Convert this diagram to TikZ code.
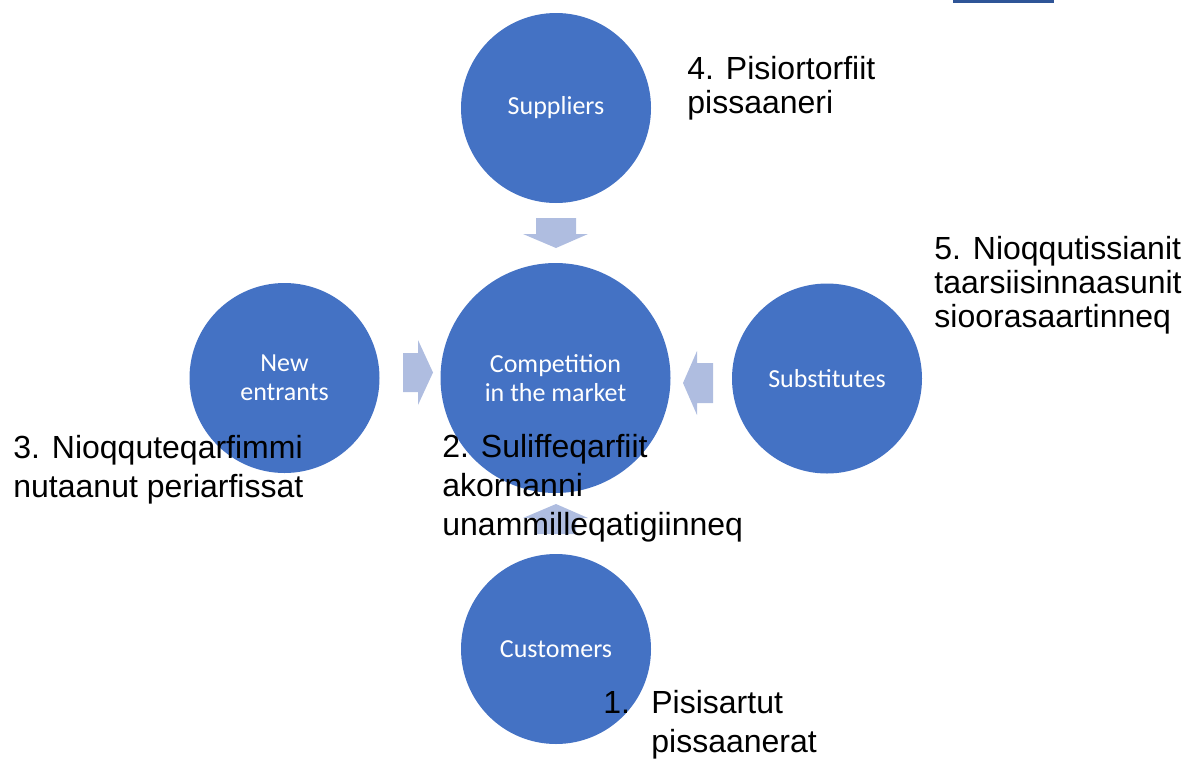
\documentclass[tikz,border=0pt]{standalone}
\usepackage{fontspec}
\setmainfont{Liberation Sans}
\newfontfamily\circlefont{Carlito}
\definecolor{forceblue}{RGB}{68,114,196}
\definecolor{arrowblue}{RGB}{175,189,224}
\definecolor{barblue}{RGB}{47,85,151}
\tikzset{
	force/.style={circle, fill=forceblue, minimum size=95pt, inner sep=0pt, text=white, align=center, font=\circlefont\fontsize{13}{14.5}\selectfont},
	textnote/.style={anchor=base west, align=left, inner sep=0pt, font=\fontsize{16}{19.5}\selectfont},
	tightnote/.style={textnote, font=\fontsize{16}{17}\selectfont},
	blockarrow/.style={fill=arrowblue}
}

\begin{document}
\begin{tikzpicture}[x=0.5pt, y=-0.5pt]
			%%%%% START %%%%%
			
			\useasboundingbox (0, 0) rectangle (1200, 761);
			\fill[barblue] (953, 0) rectangle (1054, 2.5);
			
			\node[force] (suppliers) at (556, 108) {Suppliers};
			\node[force, minimum size=115pt] (market) at (555.5, 378) {Competition\\in the market};
			\node[force] (entrants) at (284.5, 378) {New\\entrants};
			\node[force] (substitutes) at (827, 378.5) {Substitutes};
			\node[force] (customers) at (556, 649) {Customers};
			
			\fill[blockarrow] (536, 218) -- (576, 218) -- (576, 234) -- (588, 234) -- (556, 248) -- (523, 234) -- (536, 234) -- cycle;
			\fill[blockarrow] (403, 353) -- (418, 353) -- (418, 340) -- (433, 372.5) -- (418, 405) -- (418, 392) -- (403, 392) -- cycle;
			\fill[blockarrow] (713, 363) -- (697, 363) -- (697, 351) -- (683, 383) -- (697, 415) -- (697, 403) -- (713, 403) -- cycle;
			\fill[blockarrow] (536, 534) -- (536, 518) -- (523, 518) -- (556, 504) -- (588, 518) -- (576, 518) -- (576, 534) -- cycle;
			
			% last line baselines
			\node[tightnote] (supnote) at (687, 113) {4. Pisiortorfiit\\pissaaneri};
			\node[tightnote] (subnote) at (934, 327) {5. Nioqqutissianit\\taarsiisinnaasunit\\sioorasaartinneq};
			\node[textnote] (entnote) at (13, 497) {3. Nioqquteqarfimmi\\nutaanut periarfissat};
			\node[textnote] (marknote) at (442, 535) {2. Suliffeqarfiit\\akornanni\\unammilleqatigiinneq};
			\node[textnote] (custnum) at (603, 713) {1.};
			\node[textnote] (custnote) at (651, 752) {Pisisartut\\pissaanerat};
			
			%%%%% END %%%%%
		\end{tikzpicture}
\end{document}
